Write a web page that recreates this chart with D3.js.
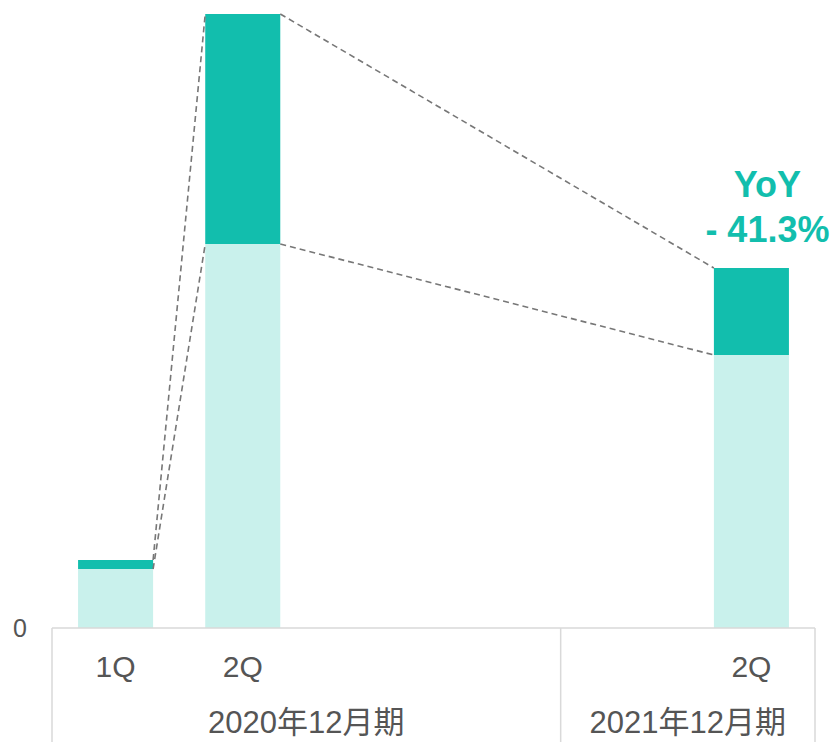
<!DOCTYPE html>
<html>
<head>
<meta charset="utf-8">
<script src="https://cdn.jsdelivr.net/npm/d3@7/dist/d3.min.js"></script>
<style>
  html, body { margin: 0; padding: 0; background: #fff; }
  svg { display: block; }
  text { font-family: "Liberation Sans", Arial, "Noto Sans CJK JP", sans-serif; }
</style>
</head>
<body>
<svg id="chart" width="835" height="742"></svg>
<script>
// ---- data ----
const categories = ["2020-1Q", "2020-2Q", "2020-3Q", "2020-4Q", "2021-1Q", "2021-2Q"];
const quarterLabels = ["1Q", "2Q", "", "", "", "2Q"];
const lightValues = [59, 384, null, null, null, 273];
const darkValues = [9, 230, null, null, null, 87];
const groupLabels = ["2020年12月期", "2021年12月期"];
const groupSizes = [4, 2];
const yTicks = [0];
const annotationLines = ["YoY", "- 41.3%"];

(function () {
// ---- styles ----
const DARK = "#12BEAD";
const LIGHT = "#C9F1EC";
const TEXT = "#555555";
const GRID = "#D9D9D9";

const svg = d3.select("#chart");
const mLeft = 52, mRight = 815, mTop = 14, base = 628, mBottom = 742;

const x = d3.scaleBand().domain(categories).range([mLeft, mRight]).paddingInner(0.41).paddingOuter(0.205);
const y = d3.scaleLinear().domain([0, 614]).range([base, mTop]);

const data = categories.map((c, i) => ({
  cat: c, q: quarterLabels[i], light: lightValues[i], dark: darkValues[i]
}));
const bars = data.filter(d => d.light != null);

// bars
svg.append("g").selectAll("rect").data(bars).join("rect")
  .attr("x", d => x(d.cat)).attr("width", x.bandwidth())
  .attr("y", d => y(d.light)).attr("height", d => y(0) - y(d.light))
  .attr("fill", LIGHT);
svg.append("g").selectAll("rect").data(bars).join("rect")
  .attr("x", d => x(d.cat)).attr("width", x.bandwidth())
  .attr("y", d => y(d.light + d.dark)).attr("height", d => y(d.light) - y(d.light + d.dark))
  .attr("fill", DARK);

// connectors
const conn = svg.append("g").attr("stroke", "#777777").attr("stroke-width", 1.6)
  .attr("stroke-dasharray", "6,4").attr("fill", "none");
for (let i = 0; i < bars.length - 1; i++) {
  const a = bars[i], b = bars[i + 1];
  const x1 = x(a.cat) + x.bandwidth(), x2 = x(b.cat);
  conn.append("line").attr("x1", x1).attr("x2", x2)
    .attr("y1", y(a.light + a.dark)).attr("y2", y(b.light + b.dark));
  conn.append("line").attr("x1", x1).attr("x2", x2)
    .attr("y1", y(a.light)).attr("y2", y(b.light));
}

// axis line
svg.append("line").attr("x1", mLeft).attr("x2", mRight).attr("y1", base).attr("y2", base)
  .attr("stroke", GRID).attr("stroke-width", 1.5);

// group separators
let acc = 0;
const bounds = [mLeft];
groupSizes.forEach(n => {
  acc += n;
  bounds.push(acc >= categories.length ? mRight : x(categories[acc]) - x.step() * x.paddingInner() / 2);
});
svg.append("g").selectAll("line").data(bounds).join("line")
  .attr("x1", d => d).attr("x2", d => d).attr("y1", base).attr("y2", mBottom)
  .attr("stroke", GRID).attr("stroke-width", 1.5);

// quarter labels
svg.append("g").selectAll("text").data(data).join("text")
  .attr("x", d => x(d.cat) + x.bandwidth() / 2).attr("y", 677)
  .attr("text-anchor", "middle").attr("font-size", 30).attr("fill", TEXT)
  .text(d => d.q);

// group labels
svg.append("g").selectAll("text").data(groupLabels).join("text")
  .attr("x", (d, i) => (bounds[i] + bounds[i + 1]) / 2).attr("y", 733)
  .attr("text-anchor", "middle").attr("font-size", 31).attr("fill", TEXT)
  .text(d => d);

// y tick
svg.append("g").selectAll("text").data(yTicks).join("text")
  .attr("x", 27).attr("y", d => y(d) + 9)
  .attr("text-anchor", "end").attr("font-size", 25).attr("fill", TEXT)
  .text(d => d);

// annotation
const last = bars[bars.length - 1];
svg.append("g").selectAll("text").data(annotationLines).join("text")
  .attr("x", x(last.cat) + x.bandwidth() / 2 + 16)
  .attr("y", (d, i) => 197 + i * 45)
  .attr("text-anchor", "middle").attr("font-size", 36).attr("font-weight", "bold")
  .attr("fill", DARK).text(d => d);
})();
</script>
</body>
</html>
